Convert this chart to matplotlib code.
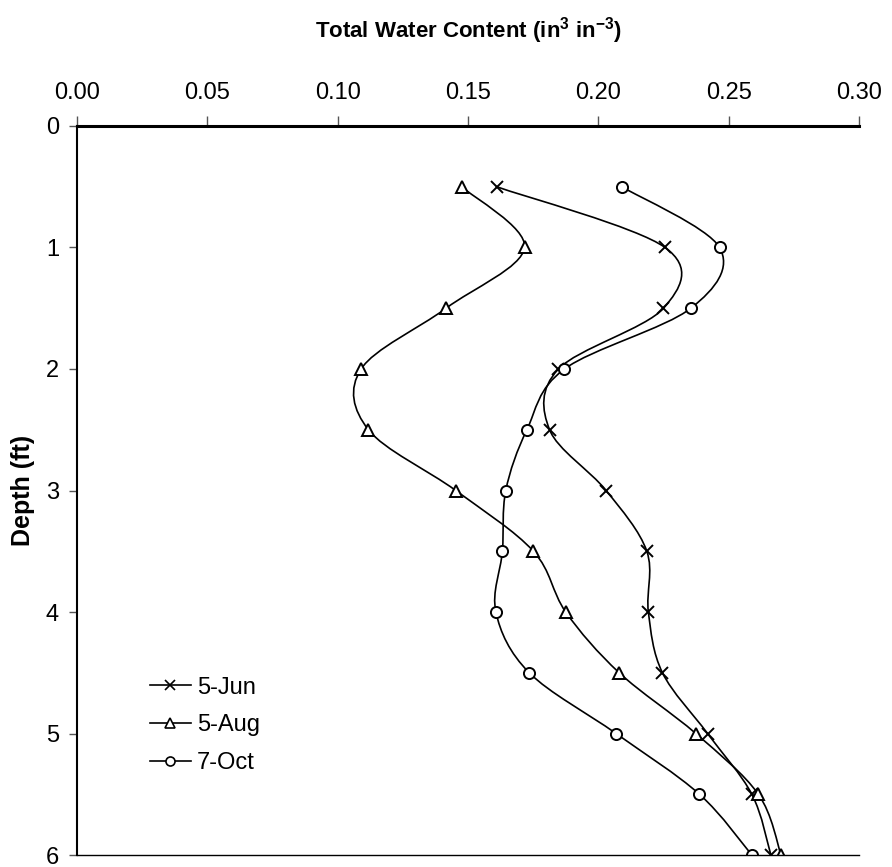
import numpy as np
import matplotlib
matplotlib.use('Agg')
import matplotlib.pyplot as plt
from matplotlib.path import Path
from matplotlib.patches import PathPatch
from matplotlib.lines import Line2D

plt.rcParams['font.family'] = ['Liberation Sans', 'DejaVu Sans']
plt.rcParams['mathtext.fontset'] = 'custom'
plt.rcParams['mathtext.rm'] = 'Liberation Sans'
plt.rcParams['mathtext.bf'] = 'Liberation Sans:bold'

# Depths (ft) and total water content for each sampling date
depth = [0.5, 1.0, 1.5, 2.0, 2.5, 3.0, 3.5, 4.0, 4.5, 5.0, 5.5, 6.0]
jun5 = [0.161, 0.2256, 0.225, 0.1847, 0.1813, 0.203, 0.2186, 0.2192, 0.2246, 0.2419, 0.2589, 0.2662]
aug5 = [0.1476, 0.1717, 0.1416, 0.109, 0.1118, 0.1453, 0.1751, 0.1875, 0.208, 0.2374, 0.2614, 0.2701]
oct7 = [0.209, 0.2465, 0.2355, 0.187, 0.1726, 0.1645, 0.1632, 0.1607, 0.1735, 0.2068, 0.2388, 0.2589]

labels = ['5-Jun', '5-Aug', '7-Oct']
markers = ['x', '^', 'o']


def smooth_path(xs, ys):
    # Excel-style smoothed line: cubic Bezier segments through the points
    p = np.column_stack([xs, ys])
    n = len(p)
    verts = [p[0]]
    codes = [Path.MOVETO]
    for i in range(n - 1):
        p0 = p[i - 1] if i > 0 else p[i]
        p3 = p[i + 2] if i + 2 < n else p[i + 1]
        c1 = p[i] + (p[i + 1] - p0) / 6.0
        c2 = p[i + 1] - (p3 - p[i]) / 6.0
        verts += [c1, c2, p[i + 1]]
        codes += [Path.CURVE4] * 3
    return Path(verts, codes)


fig = plt.figure(figsize=(8.92, 8.67), dpi=100)
ax = fig.add_axes([0.0863, 0.0138, 0.8767, 0.8409])

for vals, m in zip([jun5, aug5, oct7], markers):
    ax.add_patch(PathPatch(smooth_path(vals, depth), fill=False, ec='black', lw=1.2))
    if m == 'x':
        ax.plot(vals, depth, ls='none', marker='x', ms=8, mew=1.4, color='black')
    else:
        ax.plot(vals, depth, ls='none', marker=m, ms=8, mew=1.4, mfc='white', mec='black')

ax.set_xlim(0, 0.30)
ax.set_ylim(6, 0)
ax.set_xticks(np.arange(0, 0.301, 0.05))
ax.set_xticklabels(['%.2f' % v for v in np.arange(0, 0.301, 0.05)])
ax.set_yticks(range(0, 7))
ax.xaxis.tick_top()
ax.xaxis.set_label_position('top')
ax.tick_params(axis='x', direction='out', length=7, width=1, color='#555555', labelsize=17, pad=9)
ax.tick_params(axis='y', direction='out', length=6, width=1, color='#555555', labelsize=17, pad=7)

ax.spines['right'].set_visible(False)
ax.spines['top'].set_linewidth(2.2)
ax.spines['left'].set_linewidth(1.5)
ax.spines['bottom'].set_linewidth(1.0)

ax.set_xlabel(r'Total Water Content (in$^{\mathbf{3}}$ in$^{\mathbf{-3}}$)', fontsize=16,
              fontweight='bold', labelpad=32)
ax.set_ylabel('Depth (ft)', fontsize=18, fontweight='bold', labelpad=8)

handles = []
for m in markers:
    if m == 'x':
        handles.append(Line2D([], [], color='black', lw=1.2, marker='x', ms=6.5, mew=1.2))
    else:
        handles.append(Line2D([], [], color='black', lw=1.2, marker=m, ms=6.5, mew=1.2, mfc='white'))
ax.legend(handles, labels, loc='center left', bbox_to_anchor=(0.093, 0.178), frameon=False,
          fontsize=17, handlelength=1.75, handletextpad=0.25, labelspacing=0.66,
          borderpad=0, borderaxespad=0)

fig.savefig('out.png', dpi=100)
